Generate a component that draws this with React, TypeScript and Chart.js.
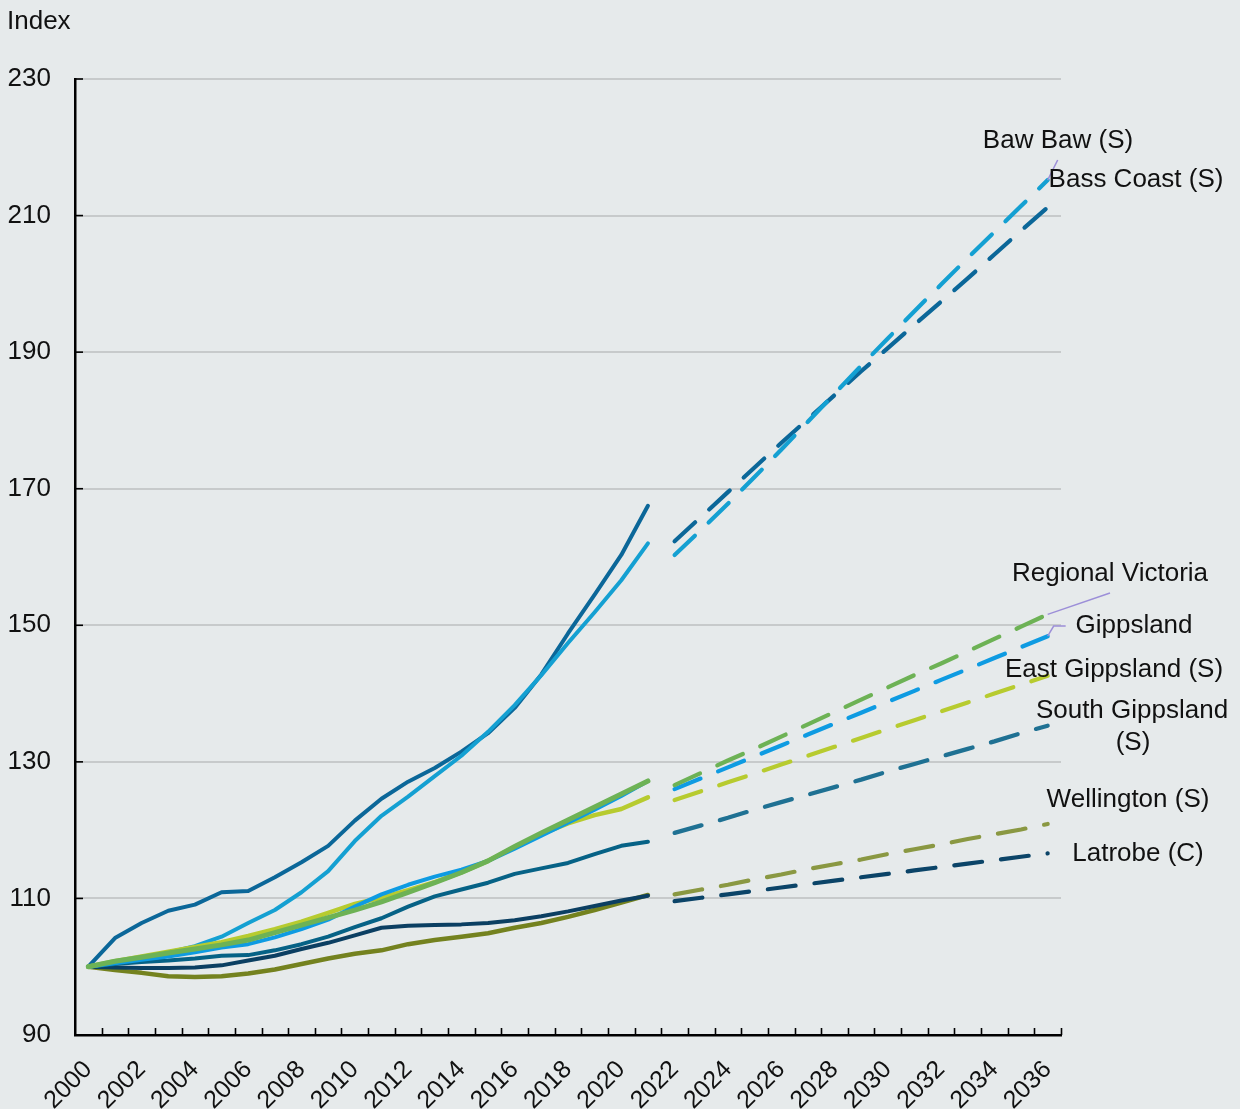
import React, { useEffect, useRef } from "react";
import { Chart, registerables } from "chart.js";

Chart.register(...registerables);

const years = [
  "2000", "2001", "2002", "2003", "2004", "2005", "2006", "2007", "2008", "2009",
  "2010", "2011", "2012", "2013", "2014", "2015", "2016", "2017", "2018", "2019",
  "2020", "2021", "2022", "2023", "2024", "2025", "2026", "2027", "2028", "2029",
  "2030", "2031", "2032", "2033", "2034", "2035", "2036",
];

const yTickValues = [90, 110, 130, 150, 170, 190, 210, 230];

// Historical (2000-2021)
const bawBawHist = [100, 100.7, 101.3, 102.1, 103.0, 104.4, 106.4, 108.3, 110.9, 114.0, 118.4, 122.1, 124.9, 127.9, 130.9, 134.4, 138.3, 142.7, 147.4, 151.9, 156.6, 162.0];
const bassCoastHist = [100, 104.2, 106.4, 108.2, 109.1, 110.9, 111.1, 113.1, 115.3, 117.7, 121.4, 124.6, 127.1, 129.1, 131.5, 134.2, 137.9, 142.8, 148.8, 154.5, 160.3, 167.5];
const regionalVicHist = [100, 100.8, 101.4, 102.0, 102.6, 103.2, 103.9, 105.0, 106.1, 107.2, 108.3, 109.5, 110.9, 112.3, 113.8, 115.5, 117.6, 119.6, 121.5, 123.4, 125.3, 127.2];
const gippslandHist = [100, 100.5, 101.0, 101.5, 102.1, 102.8, 103.3, 104.3, 105.5, 106.9, 108.8, 110.6, 112.0, 113.2, 114.2, 115.5, 117.3, 119.2, 121.1, 123.0, 125.0, 127.2];
const eastGippsHist = [100, 100.8, 101.5, 102.2, 102.9, 103.6, 104.5, 105.5, 106.6, 107.9, 109.2, 110.1, 111.2, 112.4, 113.8, 115.5, 117.5, 119.4, 121.0, 122.2, 123.1, 124.8];
const southGippsHist = [100, 100.4, 100.7, 100.9, 101.2, 101.6, 101.7, 102.4, 103.3, 104.4, 105.8, 107.1, 108.8, 110.3, 111.3, 112.3, 113.6, 114.4, 115.2, 116.5, 117.7, 118.3];
const wellingtonHist = [100, 99.5, 99.1, 98.6, 98.5, 98.6, 99.0, 99.6, 100.4, 101.2, 101.9, 102.4, 103.3, 103.9, 104.4, 104.9, 105.7, 106.4, 107.3, 108.3, 109.4, 110.5];
const latrobeHist = [100, 99.9, 99.8, 99.8, 99.9, 100.2, 100.9, 101.6, 102.6, 103.5, 104.6, 105.7, 106.0, 106.1, 106.2, 106.4, 106.8, 107.4, 108.1, 108.9, 109.7, 110.4];

// Projections (2022-2036)
const bawBawProj = [160.3, 164.0, 167.8, 171.7, 175.7, 179.8, 183.9, 188.0, 192.0, 196.0, 199.9, 203.8, 207.6, 211.4, 215.2];
const bassCoastProj = [162.3, 165.9, 169.5, 173.1, 176.7, 180.2, 183.7, 187.2, 190.6, 194.0, 197.4, 200.8, 204.3, 207.8, 211.2];
const regionalVicProj = [126.6, 128.4, 130.2, 131.9, 133.7, 135.5, 137.3, 139.1, 140.9, 142.7, 144.4, 146.2, 148.0, 149.8, 151.6];
const gippslandProj = [126.0, 127.6, 129.2, 130.8, 132.4, 134.0, 135.6, 137.2, 138.8, 140.4, 142.0, 143.6, 145.2, 146.8, 148.4];
const eastGippsProj = [124.4, 125.7, 127.0, 128.3, 129.6, 130.9, 132.2, 133.5, 134.8, 136.1, 137.4, 138.7, 140.0, 141.3, 142.6];
const southGippsProj = [119.6, 120.7, 121.8, 123.0, 124.1, 125.2, 126.3, 127.4, 128.6, 129.7, 130.8, 131.9, 133.0, 134.2, 135.3];
const wellingtonProj = [110.6, 111.3, 112.0, 112.8, 113.5, 114.3, 115.0, 115.7, 116.5, 117.2, 117.9, 118.7, 119.4, 120.1, 120.9];
const latrobeProj = [109.6, 110.1, 110.6, 111.1, 111.6, 112.1, 112.6, 113.1, 113.6, 114.1, 114.6, 115.1, 115.6, 116.1, 116.6];

const seriesNames = [
  "Regional Victoria",
  "Gippsland",
  "East Gippsland (S)",
  "Baw Baw (S)",
  "Bass Coast (S)",
  "South Gippsland (S)",
  "Latrobe (C)",
  "Wellington (S)",
];
const seriesHist = [regionalVicHist, gippslandHist, eastGippsHist, bawBawHist, bassCoastHist, southGippsHist, latrobeHist, wellingtonHist];
const seriesProj = [regionalVicProj, gippslandProj, eastGippsProj, bawBawProj, bassCoastProj, southGippsProj, latrobeProj, wellingtonProj];
const solidColors = ["#6DB255", "#0E9BE2", "#B7CB2F", "#14A0D2", "#0B6799", "#066286", "#0B3F62", "#74821F"];
const dashColors = ["#6DB255", "#0E9BE2", "#B7CB2F", "#14A0D2", "#0B6799", "#1F7193", "#0B4468", "#8A9842"];
const solidWidths = [5, 4, 4.5, 4, 4, 4, 4, 4.5];

const FONT = "'Liberation Sans', Arial, Helvetica, sans-serif";
const TEXT = "#111111";
const LEADER = "#9C8FD8";

const decorPlugin = {
  id: "decor",
  afterDraw(chart: any) {
    const { ctx, chartArea, scales } = chart;
    const x = scales.x;
    const y = scales.y;
    ctx.save();
    // inner ticks on x axis at category boundaries
    ctx.strokeStyle = "#000";
    ctx.lineWidth = 1.6;
    const step = (chartArea.right - chartArea.left) / years.length;
    for (let i = 1; i <= years.length; i++) {
      const px = Math.round(chartArea.left + i * step) + 0.5;
      ctx.beginPath();
      ctx.moveTo(px, chartArea.bottom);
      ctx.lineTo(px, chartArea.bottom - 7);
      ctx.stroke();
    }
    // inner ticks on y axis
    yTickValues.forEach((v) => {
      const py = y.getPixelForValue(v);
      ctx.beginPath();
      ctx.moveTo(chartArea.left, py);
      ctx.lineTo(chartArea.left + 8, py);
      ctx.stroke();
    });

    // "Index" title
    ctx.fillStyle = TEXT;
    ctx.font = `26px ${FONT}`;
    ctx.textAlign = "left";
    ctx.textBaseline = "middle";
    ctx.fillText("Index", 7, 22);

    // leader lines
    const xEnd = x.getPixelForValue(36);
    ctx.strokeStyle = LEADER;
    ctx.lineWidth = 1.5;
    ctx.beginPath();
    ctx.moveTo(xEnd, y.getPixelForValue(bawBawProj[14]));
    ctx.lineTo(xEnd + 10, 160);
    ctx.stroke();
    ctx.beginPath();
    ctx.moveTo(xEnd, y.getPixelForValue(regionalVicProj[14]));
    ctx.lineTo(1110, 593);
    ctx.stroke();
    ctx.beginPath();
    ctx.moveTo(xEnd, y.getPixelForValue(gippslandProj[14]));
    ctx.lineTo(xEnd + 6, 626);
    ctx.lineTo(xEnd + 18, 626);
    ctx.stroke();

    // series labels
    ctx.fillStyle = TEXT;
    ctx.font = `26px ${FONT}`;
    ctx.textAlign = "center";
    ctx.textBaseline = "middle";
    const labels: [string, number, number][] = [
      ["Baw Baw (S)", 1058, 141],
      ["Bass Coast (S)", 1136, 180],
      ["Regional Victoria", 1110, 574],
      ["Gippsland", 1134, 626],
      ["East Gippsland (S)", 1114, 670],
      ["South Gippsland", 1132, 711],
      ["(S)", 1133, 743],
      ["Wellington (S)", 1128, 800],
      ["Latrobe (C)", 1138, 854],
    ];
    labels.forEach(([t, lx, ly]) => ctx.fillText(t, lx, ly));
    ctx.restore();
  },
};

export default function App() {
  const canvasRef = useRef<HTMLCanvasElement | null>(null);

  useEffect(() => {
    document.body.style.margin = "0";
    document.body.style.background = "#E6EAEB";
    const canvas = canvasRef.current;
    if (!canvas) return;

    const nullsHist = years.slice(0, 22).map(() => null);
    const nullsProj = years.slice(22).map(() => null);
    const datasets: any[] = [];
    seriesNames.forEach((name, i) => {
      datasets.push({
        label: name,
        data: [...seriesHist[i], ...nullsProj],
        borderColor: solidColors[i],
        borderWidth: solidWidths[i],
        pointRadius: 0,
        tension: 0,
        fill: false,
        borderCapStyle: "round",
        borderJoinStyle: "round",
      });
    });
    seriesNames.forEach((name, i) => {
      datasets.push({
        label: name + " projection",
        data: [...nullsHist, ...seriesProj[i]],
        borderColor: dashColors[i],
        borderWidth: 4.2,
        borderDash: [28, 19],
        pointRadius: 0,
        tension: 0,
        fill: false,
        borderCapStyle: "round",
      });
    });

    const chart = new Chart(canvas, {
      type: "line",
      data: { labels: years, datasets },
      options: {
        responsive: false,
        animation: false,
        devicePixelRatio: 1,
        layout: { padding: { top: 79, right: 179, left: 0, bottom: 0 } },
        plugins: {
          legend: { display: false },
          tooltip: { enabled: false },
        },
        scales: {
          x: {
            type: "category",
            offset: true,
            afterFit: (s: any) => {
              s.height = 74;
            },
            grid: { display: true, drawOnChartArea: false, drawTicks: false, offset: true },
            border: { display: true, color: "#000", width: 2.5 },
            ticks: {
              autoSkip: false,
              maxRotation: 45,
              minRotation: 45,
              padding: 20,
              color: TEXT,
              font: { family: FONT, size: 25 },
              callback: (_v: any, idx: number) => (idx % 2 === 0 ? years[idx] : ""),
            },
          },
          y: {
            min: 90,
            max: 230,
            afterFit: (s: any) => {
              s.width = 75;
            },
            afterBuildTicks: (s: any) => {
              s.ticks = yTickValues.map((v) => ({ value: v }));
            },
            grid: {
              drawTicks: false,
              color: (c: any) => (c.tick && c.tick.value === 90 ? "rgba(0,0,0,0)" : "#C7CACB"),
              lineWidth: 2,
            },
            border: { display: true, color: "#000", width: 2.5 },
            ticks: {
              padding: 24,
              color: TEXT,
              font: { family: FONT, size: 26 },
            },
          },
        },
      },
      plugins: [decorPlugin],
    });

    return () => chart.destroy();
  }, []);

  return (
    <div style={{ width: 1240, height: 1109, background: "#E6EAEB" }}>
      <canvas ref={canvasRef} width={1240} height={1109} style={{ display: "block" }} />
    </div>
  );
}
